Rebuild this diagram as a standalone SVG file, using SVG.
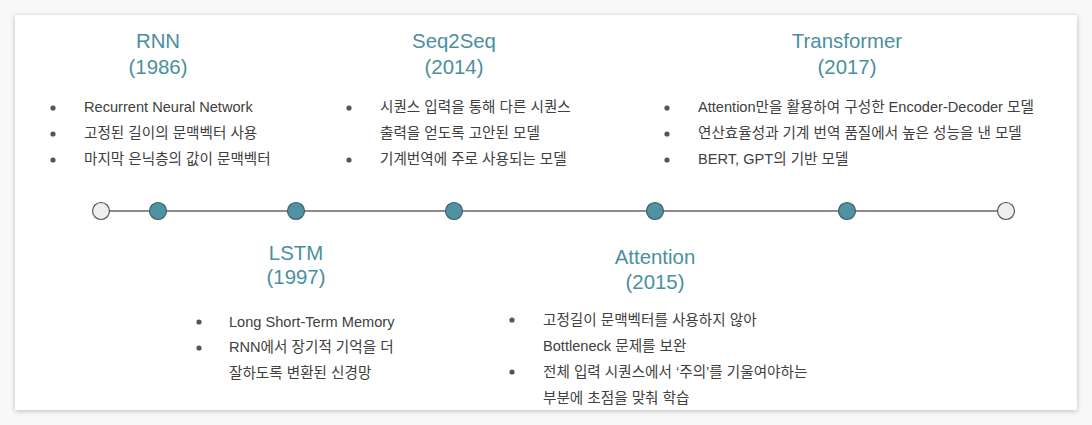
<svg xmlns="http://www.w3.org/2000/svg" width="1092" height="425" viewBox="0 0 1092 425">
<defs>
<filter id="sh" x="-5%" y="-10%" width="110%" height="120%"><feGaussianBlur in="SourceAlpha" stdDeviation="2.5"/><feOffset dy="1"/><feComponentTransfer><feFuncA type="linear" slope="0.25"/></feComponentTransfer><feMerge><feMergeNode/><feMergeNode in="SourceGraphic"/></feMerge></filter>
</defs>
<style>
.t{font-family:"Liberation Sans","Noto Sans CJK KR",sans-serif;font-size:20.4px;fill:#4a8f9f;text-anchor:middle}
.b{font-family:"Liberation Sans","Noto Sans CJK KR",sans-serif;font-size:14.6px;fill:#404040}
.d{fill:#555}
.n{fill:#4f93a3;stroke:#3d5f68;stroke-width:1.2}
.e{fill:#eeeeee;stroke:#555;stroke-width:1.2}
</style>
<rect width="1092" height="425" fill="#f8f8f8"/>
<rect x="15" y="15" width="1062" height="395" fill="#ffffff" filter="url(#sh)"/>
<g id="connectors"><line x1="101" y1="211" x2="1006" y2="211" stroke="#666" stroke-width="1.5"/></g>
<g id="start"><circle class="e" cx="101" cy="211" r="8.5"/></g>
<g id="end"><circle class="e" cx="1006" cy="211" r="8.5"/></g>
<g id="rnn">
<circle class="n" cx="158" cy="211" r="8.5"/>
<text class="t" x="158" y="48">RNN</text><text class="t" x="158" y="74">(1986)</text>
<circle class="d" cx="53" cy="108" r="2.6"/><text class="b" x="84" y="112">Recurrent Neural Network</text>
<circle class="d" cx="53" cy="134" r="2.6"/><text class="b" x="84" y="138">고정된 길이의 문맥벡터 사용</text>
<circle class="d" cx="53" cy="160" r="2.6"/><text class="b" x="84" y="164">마지막 은닉층의 값이 문맥벡터</text>
</g>
<g id="lstm">
<circle class="n" cx="296" cy="211" r="8.5"/>
<text class="t" x="296" y="260">LSTM</text><text class="t" x="296" y="284">(1997)</text>
<circle class="d" cx="199" cy="322" r="2.6"/><text class="b" x="229" y="327">Long Short-Term Memory</text>
<circle class="d" cx="199" cy="348" r="2.6"/><text class="b" x="229" y="352">RNN에서 장기적 기억을 더</text>
<text class="b" x="229" y="378">잘하도록 변환된 신경망</text>
</g>
<g id="seq2seq">
<circle class="n" cx="454" cy="211" r="8.5"/>
<text class="t" x="454" y="48">Seq2Seq</text><text class="t" x="454" y="74">(2014)</text>
<circle class="d" cx="349" cy="108" r="2.6"/><text class="b" x="380" y="112">시퀀스 입력을 통해 다른 시퀀스</text>
<text class="b" x="380" y="138">출력을 얻도록 고안된 모델</text>
<circle class="d" cx="349" cy="160" r="2.6"/><text class="b" x="380" y="164">기계번역에 주로 사용되는 모델</text>
</g>
<g id="attention">
<circle class="n" cx="655" cy="211" r="8.5"/>
<text class="t" x="655" y="264">Attention</text><text class="t" x="655" y="289">(2015)</text>
<circle class="d" cx="512" cy="320" r="2.6"/><text class="b" x="543" y="325">고정길이 문맥벡터를 사용하지 않아</text>
<text class="b" x="543" y="351">Bottleneck 문제를 보완</text>
<circle class="d" cx="512" cy="372" r="2.6"/><text class="b" x="543" y="377">전체 입력 시퀀스에서 ‘주의’를 기울여야하는</text>
<text class="b" x="543" y="403">부분에 초점을 맞춰 학습</text>
</g>
<g id="transformer">
<circle class="n" cx="847" cy="211" r="8.5"/>
<text class="t" x="847" y="48">Transformer</text><text class="t" x="847" y="74">(2017)</text>
<circle class="d" cx="667" cy="108" r="2.6"/><text class="b" x="698" y="112">Attention만을 활용하여 구성한 Encoder-Decoder 모델</text>
<circle class="d" cx="667" cy="134" r="2.6"/><text class="b" x="698" y="138">연산효율성과 기계 번역 품질에서 높은 성능을 낸 모델</text>
<circle class="d" cx="667" cy="160" r="2.6"/><text class="b" x="698" y="164">BERT, GPT의 기반 모델</text>
</g>
</svg>
